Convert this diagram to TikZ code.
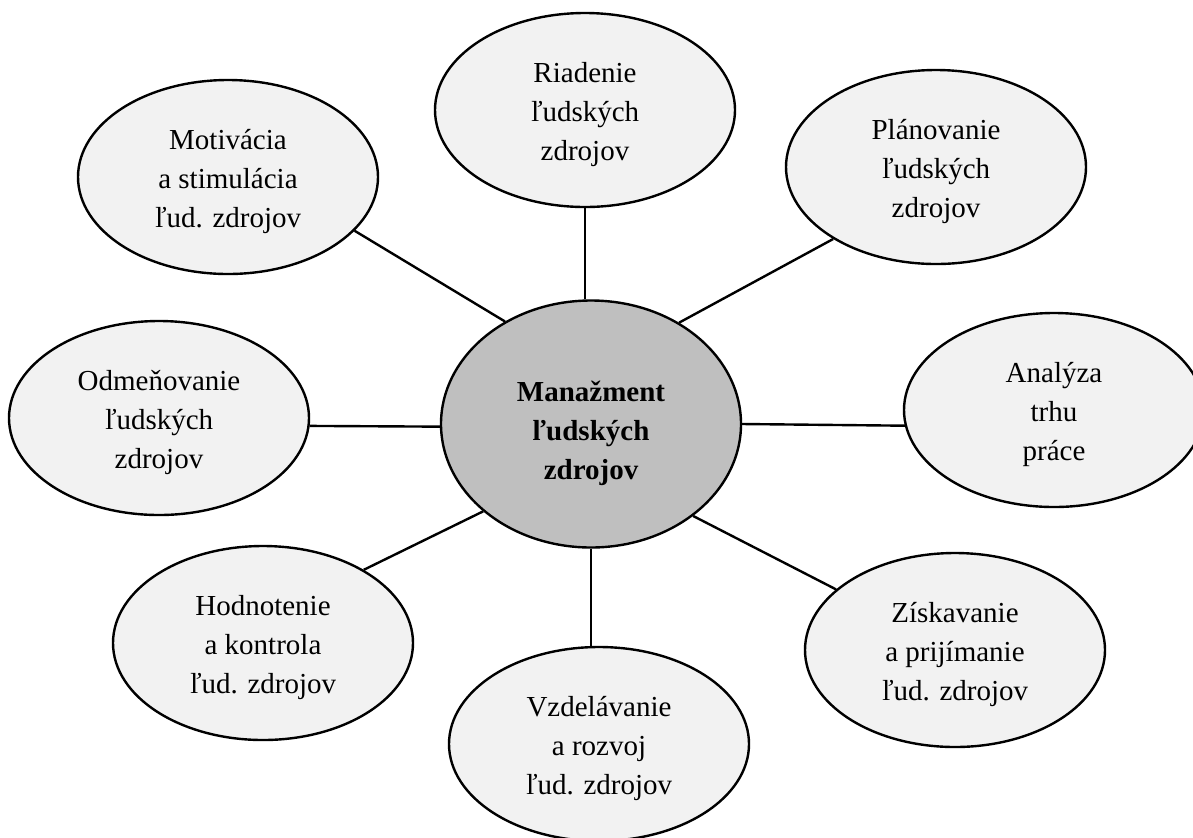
\documentclass[tikz,border=0pt]{standalone}
\usepackage{fontspec}
\setmainfont{Liberation Serif}
\usetikzlibrary{shapes.geometric,backgrounds}
\definecolor{lightfill}{HTML}{F2F2F2}
\definecolor{corefill}{HTML}{BFBFBF}
\newcommand{\lowtext}[2]{\raisebox{-#1}[\height][\depth]{\begin{tabular}{@{}c@{}}#2\end{tabular}}}
\begin{document}
\begin{tikzpicture}[x=0.5pt,y=-0.5pt,
  outer/.style={ellipse,draw=black,line width=1.2pt,fill=lightfill,
    minimum width=150pt,minimum height=97pt,inner sep=0pt,
    font=\fontsize{14.5pt}{19.5pt}\selectfont},
  core/.style={outer,fill=corefill,minimum height=123.5pt,
    font=\fontsize{14.5pt}{19.5pt}\selectfont\bfseries},
  link/.style={line width=1.2pt,draw=black}]
\useasboundingbox (0,0) rectangle (1193,837);
\node[core] (M) at (591,424) {\lowtext{4.5pt}{Manažment\\ľudských\\zdrojov}};
\node[outer] (R) at (585,110) {\lowtext{1.75pt}{Riadenie\\ľudských\\zdrojov}};
\node[outer] (P) at (936,167) {\lowtext{1.75pt}{Plánovanie\\ľudských\\zdrojov}};
\node[outer] (A) at (1054,410) {\lowtext{1.75pt}{Analýza\\trhu\\práce}};
\node[outer] (Z) at (955,650) {\lowtext{1.75pt}{Získavanie\\a prijímanie\\ľud. zdrojov}};
\node[outer] (V) at (599,744) {\lowtext{1.75pt}{Vzdelávanie\\a rozvoj\\ľud. zdrojov}};
\node[outer] (H) at (263,643) {\lowtext{1.75pt}{Hodnotenie\\a kontrola\\ľud. zdrojov}};
\node[outer] (O) at (159,418) {\lowtext{1.75pt}{Odmeňovanie\\ľudských\\zdrojov}};
\node[outer] (Mo) at (228,177) {\lowtext{1.75pt}{Motivácia\\a stimulácia\\ľud. zdrojov}};
\begin{scope}[on background layer]
\fill[white] (0,0) rectangle (1193,837);
\draw[link] (R.south) -- (R.south |- M.north);
\draw[link] (M.south) -- (M.south |- V.north);
\draw[link] (Mo.337) -- (M.130);
\draw[link] (M.49) -- (P.215);
\draw[link] (M.east) -- (A.186);
\draw[link] (O.357) -- (M.181);
\draw[link] (H.36) -- (M.219);
\draw[link] (M.318) -- (Z.153);
\end{scope}
\end{tikzpicture}
\end{document}
